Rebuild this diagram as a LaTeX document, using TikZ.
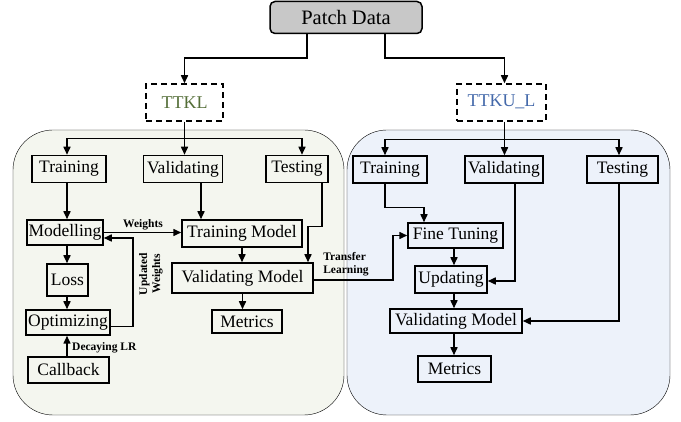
\documentclass[tikz,border=0pt]{standalone}
\usepackage{fontspec}
\setmainfont{Liberation Serif}
\usepackage{tikz}
\usetikzlibrary{arrows.meta}

\definecolor{leftpanel}{RGB}{244,246,239}
\definecolor{rightpanel}{RGB}{237,242,250}
\definecolor{patchgray}{RGB}{200,200,200}
\definecolor{ttklgreen}{RGB}{84,110,56}
\definecolor{ttkublue}{RGB}{68,105,170}

\begin{document}
\begin{tikzpicture}[x=1pt,y=-1pt,
    box/.style={draw=black,line width=1.5pt,inner xsep=1pt,inner ysep=0pt,minimum height=27pt,font=\fontsize{17.5}{19}\selectfont},
    dashbox/.style={draw=black,line width=1.5pt,dash pattern=on 6pt off 4pt,minimum height=37pt,font=\fontsize{18}{20}\selectfont},
    lbl/.style={font=\fontsize{11.5}{13}\selectfont\bfseries,inner sep=0pt},
    arr/.style={line width=1.5pt,-{Triangle[length=8pt,width=7pt]}},
    line/.style={line width=1.5pt}]

    \useasboundingbox (0,0) rectangle (681,422);

    % The two panels
    \draw[fill=leftpanel,rounded corners=40pt] (13,130) rectangle (344,415);
    \draw[fill=rightpanel,rounded corners=40pt] (347,130) rectangle (670,415);

    % Place the nodes
    \node[box,rounded corners=5pt,fill=patchgray,minimum width=152,minimum height=32,font=\fontsize{20.5}{22}\selectfont] (patch) at (346,17.5) {Patch Data};
    \node[dashbox,text=ttklgreen,minimum width=77] (ttkl) at (184.5,102.5) {TTKL};
    \node[dashbox,text=ttkublue,minimum width=89,text height=10pt] (ttku) at (501.5,102.5) {TTKU\_L};

    \node[box,minimum width=74] (trainL) at (69,169) {Training};
    \node[box,minimum width=79] (validL) at (183,169) {Validating};
    \node[box,minimum width=62] (testL) at (297,169) {Testing};
    \node[box,minimum width=76,minimum height=25] (modelL) at (65,232.5) {Modelling};
    \node[box,minimum width=120] (trmodelL) at (242,233.5) {Training Model};
    \node[box,minimum width=41,minimum height=32] (lossL) at (67.5,280) {Loss};
    \node[box,minimum width=141,minimum height=30] (valmodelL) at (242.5,278) {Validating Model};
    \node[box,minimum width=84,minimum height=25] (optL) at (68,322.5) {Optimizing};
    \node[box,minimum width=70,minimum height=23] (metricsL) at (247,321.5) {Metrics};
    \node[box,minimum width=81,minimum height=26] (callL) at (68.5,370) {Callback};

    \node[box,minimum width=74] (trainR) at (390,169.5) {Training};
    \node[box,minimum width=78] (validR) at (504,169.5) {Validating};
    \node[box,minimum width=71] (testR) at (622.5,169.5) {Testing};
    \node[box,minimum width=95,minimum height=25] (fineR) at (455.5,235.5) {Fine Tuning};
    \node[box,minimum width=72] (updR) at (451,279.5) {Updating};
    \node[box,minimum width=132,minimum height=24] (valmodelR) at (456,321) {Validating Model};
    \node[box,minimum width=73,minimum height=26] (metricsR) at (454.5,369) {Metrics};

    % Labels on the lines
    \node[lbl] (wlbl) at (143,225) {Weights};
    \node[lbl,rotate=90,align=center] (uwlbl) at (151,274) {Updated\\Weights};
    \node[lbl,anchor=west] (dlbl) at (72,348) {Decaying LR};
    \node[lbl,align=left] (tlbl) at (346,264) {Transfer\\Learning};

    % Columns of the straight arrows
    \coordinate (colL) at (67,0);
    \coordinate (colV) at (201,0);
    \coordinate (colR) at (454,0);

    % Draw the lines
    \draw[arr] ([xshift=-39]patch.south) -- ++(0,24) -| (ttkl.north);
    \draw[arr] ([xshift=39]patch.south) -- ++(0,24) -| ([xshift=3]ttku.north);

    \draw[line] (ttkl.south) -- ++(0,17) coordinate (splitL);
    \draw[arr] (splitL) -- (splitL |- validL.north);
    \draw[arr] (splitL) -| (trainL.north -| colL);
    \draw[arr] (splitL) -| ([xshift=5]testL.north);
    \draw[arr] (trainL.south -| colL) -- (modelL.north -| colL);
    \draw[arr] (validL.south -| colV) -- (trmodelL.north -| colV);
    \draw[arr] (modelL.east) -- (modelL.east -| trmodelL.west);
    \draw[arr] (modelL.south -| colL) -- (lossL.north -| colL);
    \draw[arr] (lossL.south -| colL) -- (optL.north -| colL);
    \draw[arr] ([yshift=-4]optL.east) -- ++(22,0) |- ([yshift=-5.5]modelL.east);
    \draw[arr] (callL.north -| colL) -- (optL.south -| colL);
    \draw[arr] ([xshift=25]testL.south) -- ++(0,43.5) -| ([xshift=65.5]valmodelL.north);
    \draw[arr] (trmodelL.south) -- (trmodelL.south |- valmodelL.north);
    \draw[arr] (valmodelL.south) -- (valmodelL.south |- metricsL.north);
    \draw[arr] ([yshift=-2]valmodelL.east) -- ++(79,0) |- (fineR.west);

    \draw[line] ([xshift=3]ttku.south) -- ++(0,18) coordinate (splitR);
    \draw[arr] (splitR) -- (splitR |- validR.north);
    \draw[arr] (splitR) -| ([xshift=-5]trainR.north);
    \draw[arr] (splitR) -| ([xshift=-3.5]testR.north);
    \draw[arr] ([xshift=-5]trainR.south) -- ++(0,24) -| ([xshift=-31.5]fineR.north);
    \draw[arr] ([xshift=11]validR.south) |- ([yshift=-1.5]updR.east);
    \draw[arr] (fineR.south -| colR) -- (updR.north -| colR);
    \draw[arr] (updR.south -| colR) -- (valmodelR.north -| colR);
    \draw[arr] (valmodelR.south -| colR) -- (metricsR.north -| colR);
    \draw[arr] ([xshift=-3.5]testR.south) |- (valmodelR.east);

\end{tikzpicture}
\end{document}
